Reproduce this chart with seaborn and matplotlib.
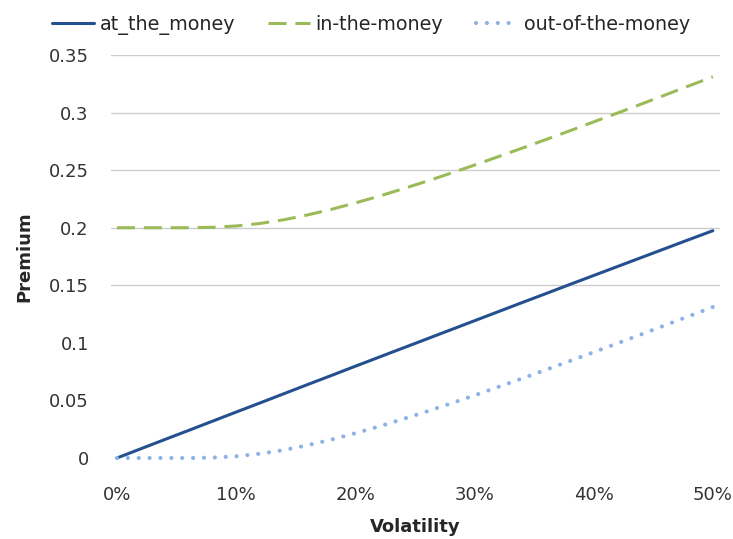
import matplotlib
matplotlib.use("Agg")
import matplotlib.pyplot as plt
import seaborn as sns
import pandas as pd

# Option premium vs. volatility (spot 1, strikes 1.0 / 1.2, one year, zero rate)
volatility = [0.00, 0.02, 0.04, 0.06, 0.08, 0.10, 0.12, 0.14, 0.16, 0.18,
              0.20, 0.22, 0.24, 0.26, 0.28, 0.30, 0.32, 0.34, 0.36, 0.38,
              0.40, 0.42, 0.44, 0.46, 0.48, 0.50]
at_the_money = [0.0000, 0.0080, 0.0160, 0.0239, 0.0319, 0.0399, 0.0478, 0.0558,
                0.0638, 0.0717, 0.0797, 0.0876, 0.0955, 0.1034, 0.1113, 0.1192,
                0.1271, 0.1350, 0.1428, 0.1507, 0.1585, 0.1663, 0.1741, 0.1819,
                0.1897, 0.1974]
in_the_money = [0.2000, 0.2000, 0.2000, 0.2000, 0.2003, 0.2015, 0.2037, 0.2069,
                0.2111, 0.2160, 0.2215, 0.2274, 0.2338, 0.2404, 0.2473, 0.2544,
                0.2617, 0.2691, 0.2766, 0.2842, 0.2919, 0.2996, 0.3074, 0.3153,
                0.3232, 0.3311]
out_of_the_money = [0.0000, 0.0000, 0.0000, 0.0000, 0.0003, 0.0015, 0.0037, 0.0069,
                    0.0111, 0.0160, 0.0215, 0.0274, 0.0338, 0.0404, 0.0473, 0.0544,
                    0.0617, 0.0691, 0.0766, 0.0842, 0.0919, 0.0996, 0.1074, 0.1153,
                    0.1232, 0.1311]
series_names = ["at_the_money", "in-the-money", "out-of-the-money"]
x_ticks = [0.0, 0.1, 0.2, 0.3, 0.4, 0.5]
x_tick_labels = ["0%", "10%", "20%", "30%", "40%", "50%"]
y_ticks = [0.0, 0.05, 0.10, 0.15, 0.20, 0.25, 0.30, 0.35]
y_tick_labels = ["0", "0.05", "0.1", "0.15", "0.2", "0.25", "0.3", "0.35"]

df = pd.DataFrame({
    "Volatility": volatility * 3,
    "Premium": at_the_money + in_the_money + out_of_the_money,
    "series": [series_names[0]] * len(volatility)
              + [series_names[1]] * len(volatility)
              + [series_names[2]] * len(volatility),
})

sns.set_theme(style="white")
plt.rcParams["font.family"] = ["DejaVu Sans"]

fig = plt.figure(figsize=(7.33, 5.39), dpi=100)
ax = fig.add_axes([111 / 733, 1 - 458 / 539, (720 - 111) / 733, (458 - 55) / 539])

styles = {
    "at_the_money": dict(color="#24508f", linestyle="-", lw=2.2),
    "in-the-money": dict(color="#9bbb59", linestyle=(0, (5.9, 2.9)), lw=2.2),
    "out-of-the-money": dict(color="#8cb2e6", linestyle=(0, (0.01, 2.6)), lw=3.0,
                             dash_capstyle="round"),
}
for name in series_names:
    sub = df[df["series"] == name]
    sns.lineplot(data=sub, x="Volatility", y="Premium", ax=ax, label=name,
                 clip_on=False, zorder=3, **styles[name])

ax.set_xlim(-0.005, 0.506)
ax.set_ylim(0, 0.35)
ax.set_xticks(x_ticks)
ax.set_xticklabels(x_tick_labels)
ax.set_yticks(y_ticks)
ax.set_yticklabels(y_tick_labels)
ax.tick_params(axis="both", length=0, labelsize=13, colors="#333333")
ax.tick_params(axis="x", pad=20)
ax.tick_params(axis="y", pad=16)

for sp in ax.spines.values():
    sp.set_visible(False)

# horizontal guide lines on the upper part of the scale
for yv in y_ticks[3:]:
    ax.axhline(yv, color="#cccccc", lw=1.0, zorder=1)

ax.set_xlabel("Volatility", fontsize=13, fontweight="bold")
ax.set_ylabel("Premium", fontsize=13, fontweight="bold")
ax.xaxis.set_label_coords(0.5, -0.148)
ax.yaxis.set_label_coords(-0.128, 0.5)

handles, labels = ax.get_legend_handles_labels()
ax.legend(handles, labels, loc="center", bbox_to_anchor=(0.506, 1 - 25 / 539),
          bbox_transform=fig.transFigure, ncol=3, frameon=False, fontsize=13.8,
          handlelength=2.2, handletextpad=0.3, columnspacing=1.7)

fig.savefig("out.png", dpi=100)
